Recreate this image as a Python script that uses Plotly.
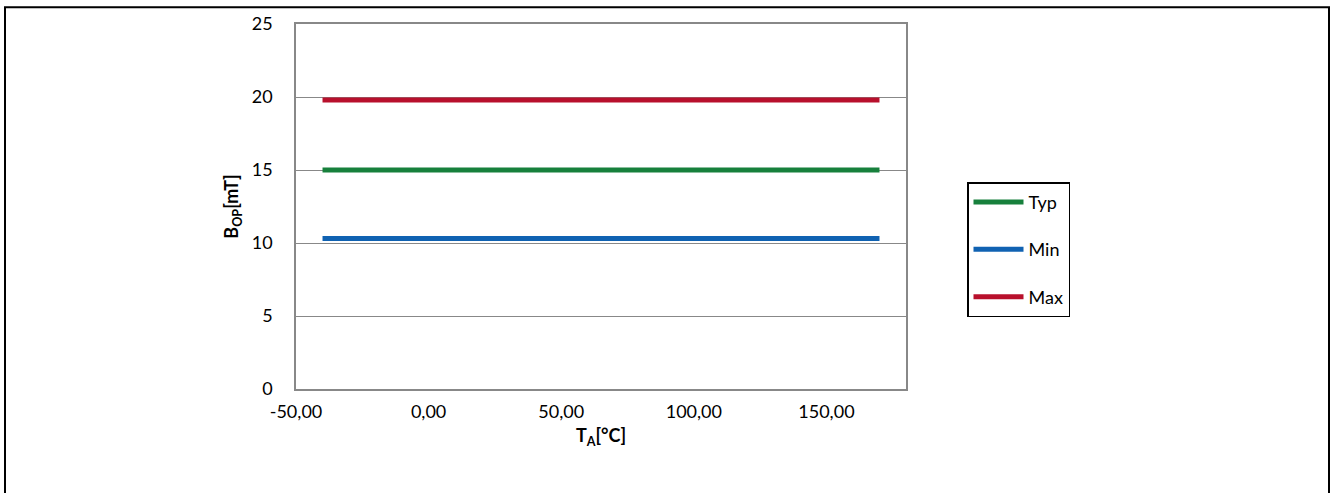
import plotly.graph_objects as go

temps = [-40, 170]
typ = [15.0, 15.0]
vmin = [10.3, 10.3]
vmax = [19.8, 19.8]
x_ticks = [-50, 0, 50, 100, 150]
x_ticklabels = ["-50,00", "0,00", "50,00", "100,00", "150,00"]
y_ticks = [0, 5, 10, 15, 20, 25]

W, H = 1331, 493
L, R, T, B = 296, 906, 20, 389

fig = go.Figure()
fig.add_trace(go.Scatter(x=temps, y=typ, mode="lines", name="Typ", legendgroup="a",
                         line=dict(color="#17803c", width=5)))
fig.add_trace(go.Scatter(x=temps, y=vmin, mode="lines", name="Min", legendgroup="b",
                         line=dict(color="#1062b2", width=5)))
fig.add_trace(go.Scatter(x=temps, y=vmax, mode="lines", name="Max", legendgroup="c",
                         line=dict(color="#b8102c", width=5)))

pw, ph = R - L, B - T
def px(x): return (x - L) / pw
def py(y): return (B - y) / ph

fig.update_layout(
    width=W, height=H,
    margin=dict(l=L, r=W - R, t=T, b=H - B),
    paper_bgcolor="white", plot_bgcolor="white",
    font=dict(family="Lato, Liberation Sans, sans-serif", size=18, color="black"),
    showlegend=True,
    legend=dict(x=px(967), y=py(180), xanchor="left", yanchor="top",
                bordercolor="black", borderwidth=1.5, bgcolor="white",
                font=dict(size=18), tracegroupgap=21, itemwidth=50,
                traceorder="grouped"),
    xaxis=dict(range=[-50, 180], tickvals=x_ticks, ticktext=x_ticklabels,
               showgrid=False, zeroline=False, showline=True, linecolor="#888888",
               linewidth=1.5, mirror=True, ticks="", ticklen=0, ticklabelstandoff=6,
               title=dict(text="<b>T<sub>A</sub>[°C]</b>", font=dict(size=18), standoff=8)),
    yaxis=dict(range=[0, 25], tickvals=y_ticks, showgrid=True, gridcolor="#888888",
               gridwidth=1.2, zeroline=False, showline=True, linecolor="#888888",
               linewidth=1.5, mirror=True, ticks="", ticklen=0, ticklabelstandoff=18,
               title=dict(text="<b>B<sub>OP</sub>[mT]</b>", font=dict(size=18), standoff=8)),
    shapes=[dict(type="rect", xref="paper", yref="paper",
                 x0=px(5), x1=px(1329), y0=py(500), y1=py(3),
                 line=dict(color="black", width=2), fillcolor="rgba(0,0,0,0)", layer="below")],
)

fig.write_html("out.html", config={"displayModeBar": False},
               post_script="document.body.style.margin='0';")
